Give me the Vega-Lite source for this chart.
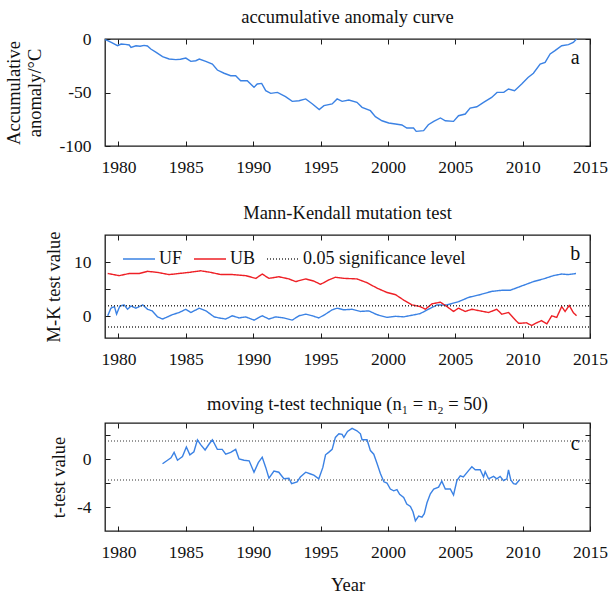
{
  "$schema": "https://vega.github.io/schema/vega-lite/v6.json",
  "background": "white",
  "padding": {"left": 4, "top": 6, "right": 0, "bottom": 2},
  "spacing": 25,
  "resolve": {"legend": {"color": "independent", "strokeDash": "independent"}},
  "datasets": {
    "anom": [
      {"year": 1979.0, "value": -0.5}, {"year": 1979.2, "value": -1.6}, {"year": 1979.5, "value": -3.5}, {"year": 1979.93, "value": -6.3},
      {"year": 1980.2, "value": -4.7}, {"year": 1980.5, "value": -5.0}, {"year": 1980.8, "value": -5.6}, {"year": 1980.93, "value": -7.8},
      {"year": 1981.3, "value": -6.3}, {"year": 1981.6, "value": -6.8}, {"year": 1981.9, "value": -6.0}, {"year": 1982.15, "value": -6.5},
      {"year": 1982.4, "value": -9.4}, {"year": 1982.8, "value": -12.5}, {"year": 1983.27, "value": -16.5}, {"year": 1983.76, "value": -18.7},
      {"year": 1984.26, "value": -19.3}, {"year": 1984.6, "value": -18.9}, {"year": 1985.0, "value": -17.8}, {"year": 1985.37, "value": -20.9},
      {"year": 1985.74, "value": -20.3}, {"year": 1986.0, "value": -18.7}, {"year": 1986.48, "value": -20.9}, {"year": 1986.97, "value": -23.4},
      {"year": 1987.34, "value": -29.0}, {"year": 1987.84, "value": -32.0}, {"year": 1988.33, "value": -34.3}, {"year": 1988.7, "value": -34.3},
      {"year": 1989.07, "value": -39.0}, {"year": 1989.56, "value": -39.0}, {"year": 1990.06, "value": -45.2}, {"year": 1990.3, "value": -42.0},
      {"year": 1990.63, "value": -41.5}, {"year": 1990.93, "value": -48.3}, {"year": 1991.3, "value": -50.8}, {"year": 1991.8, "value": -49.9},
      {"year": 1992.4, "value": -53.9}, {"year": 1992.9, "value": -58.3}, {"year": 1993.4, "value": -57.7}, {"year": 1993.9, "value": -56.0},
      {"year": 1994.4, "value": -60.7}, {"year": 1994.9, "value": -66.0}, {"year": 1995.25, "value": -62.3}, {"year": 1995.86, "value": -60.7},
      {"year": 1996.23, "value": -56.0}, {"year": 1996.6, "value": -58.3}, {"year": 1997.1, "value": -57.0}, {"year": 1997.7, "value": -59.2},
      {"year": 1998.08, "value": -63.9}, {"year": 1998.7, "value": -67.0}, {"year": 1999.07, "value": -72.6}, {"year": 1999.56, "value": -76.4},
      {"year": 2000.06, "value": -78.5}, {"year": 2000.56, "value": -79.5}, {"year": 2001.04, "value": -80.4}, {"year": 2001.4, "value": -83.2},
      {"year": 2001.9, "value": -83.2}, {"year": 2002.1, "value": -86.3}, {"year": 2002.65, "value": -85.7}, {"year": 2003.0, "value": -80.1},
      {"year": 2003.4, "value": -77.0}, {"year": 2003.9, "value": -73.8}, {"year": 2004.26, "value": -76.4}, {"year": 2004.87, "value": -77.0},
      {"year": 2005.24, "value": -71.7}, {"year": 2005.74, "value": -70.1}, {"year": 2006.1, "value": -64.5}, {"year": 2006.6, "value": -63.3},
      {"year": 2007.1, "value": -59.2}, {"year": 2007.7, "value": -54.6}, {"year": 2008.1, "value": -49.9}, {"year": 2008.6, "value": -49.9},
      {"year": 2008.95, "value": -46.7}, {"year": 2009.4, "value": -48.3}, {"year": 2009.93, "value": -42.0}, {"year": 2010.4, "value": -35.9},
      {"year": 2010.8, "value": -32.0}, {"year": 2011.3, "value": -23.4}, {"year": 2011.67, "value": -21.9}, {"year": 2012.04, "value": -14.0},
      {"year": 2012.4, "value": -10.9}, {"year": 2012.9, "value": -6.3}, {"year": 2013.4, "value": -5.3}, {"year": 2013.76, "value": -3.2},
      {"year": 2014.0, "value": 0.0}
    ],
    "mk": [
      {"series": "UF", "grp": "UF", "year": 1979.2, "value": 0.1}, {"series": "UF", "grp": "UF", "year": 1979.44, "value": 1.5},
      {"series": "UF", "grp": "UF", "year": 1979.7, "value": 1.8}, {"series": "UF", "grp": "UF", "year": 1979.86, "value": 0.4},
      {"series": "UF", "grp": "UF", "year": 1980.1, "value": 1.9}, {"series": "UF", "grp": "UF", "year": 1980.43, "value": 2.1},
      {"series": "UF", "grp": "UF", "year": 1980.67, "value": 1.3}, {"series": "UF", "grp": "UF", "year": 1980.93, "value": 1.9},
      {"series": "UF", "grp": "UF", "year": 1981.3, "value": 1.5}, {"series": "UF", "grp": "UF", "year": 1981.8, "value": 2.1},
      {"series": "UF", "grp": "UF", "year": 1982.16, "value": 1.3}, {"series": "UF", "grp": "UF", "year": 1982.5, "value": 1.0},
      {"series": "UF", "grp": "UF", "year": 1982.9, "value": -0.1}, {"series": "UF", "grp": "UF", "year": 1983.27, "value": -0.5},
      {"series": "UF", "grp": "UF", "year": 1983.64, "value": -0.1}, {"series": "UF", "grp": "UF", "year": 1984.0, "value": 0.3},
      {"series": "UF", "grp": "UF", "year": 1984.5, "value": 0.7}, {"series": "UF", "grp": "UF", "year": 1985.0, "value": 1.3},
      {"series": "UF", "grp": "UF", "year": 1985.37, "value": 0.7}, {"series": "UF", "grp": "UF", "year": 1986.0, "value": 1.5},
      {"series": "UF", "grp": "UF", "year": 1986.5, "value": 1.0}, {"series": "UF", "grp": "UF", "year": 1987.1, "value": -0.1},
      {"series": "UF", "grp": "UF", "year": 1987.47, "value": -0.3}, {"series": "UF", "grp": "UF", "year": 1987.96, "value": -0.5},
      {"series": "UF", "grp": "UF", "year": 1988.45, "value": 0.1}, {"series": "UF", "grp": "UF", "year": 1988.95, "value": -0.3},
      {"series": "UF", "grp": "UF", "year": 1989.44, "value": -0.1}, {"series": "UF", "grp": "UF", "year": 1990.06, "value": -0.7},
      {"series": "UF", "grp": "UF", "year": 1990.67, "value": 0.1}, {"series": "UF", "grp": "UF", "year": 1991.17, "value": -0.5},
      {"series": "UF", "grp": "UF", "year": 1991.67, "value": -0.1}, {"series": "UF", "grp": "UF", "year": 1992.28, "value": -0.3},
      {"series": "UF", "grp": "UF", "year": 1992.9, "value": -0.7}, {"series": "UF", "grp": "UF", "year": 1993.4, "value": 0.1},
      {"series": "UF", "grp": "UF", "year": 1993.9, "value": 0.4}, {"series": "UF", "grp": "UF", "year": 1994.38, "value": 0.1},
      {"series": "UF", "grp": "UF", "year": 1994.87, "value": -0.3}, {"series": "UF", "grp": "UF", "year": 1995.37, "value": 0.4},
      {"series": "UF", "grp": "UF", "year": 1995.86, "value": 1.2}, {"series": "UF", "grp": "UF", "year": 1996.23, "value": 1.5},
      {"series": "UF", "grp": "UF", "year": 1996.73, "value": 1.2}, {"series": "UF", "grp": "UF", "year": 1997.34, "value": 1.3},
      {"series": "UF", "grp": "UF", "year": 1997.96, "value": 0.9}, {"series": "UF", "grp": "UF", "year": 1998.58, "value": 1.0},
      {"series": "UF", "grp": "UF", "year": 1999.19, "value": 0.3}, {"series": "UF", "grp": "UF", "year": 1999.93, "value": -0.2},
      {"series": "UF", "grp": "UF", "year": 2000.56, "value": 0.0}, {"series": "UF", "grp": "UF", "year": 2001.17, "value": -0.1},
      {"series": "UF", "grp": "UF", "year": 2001.79, "value": 0.2}, {"series": "UF", "grp": "UF", "year": 2002.4, "value": 0.5},
      {"series": "UF", "grp": "UF", "year": 2003.0, "value": 1.3}, {"series": "UF", "grp": "UF", "year": 2003.64, "value": 2.1},
      {"series": "UF", "grp": "UF", "year": 2004.38, "value": 2.1}, {"series": "UF", "grp": "UF", "year": 2005.24, "value": 2.7},
      {"series": "UF", "grp": "UF", "year": 2006.0, "value": 3.5}, {"series": "UF", "grp": "UF", "year": 2006.85, "value": 4.0},
      {"series": "UF", "grp": "UF", "year": 2007.7, "value": 4.6}, {"series": "UF", "grp": "UF", "year": 2008.45, "value": 4.8},
      {"series": "UF", "grp": "UF", "year": 2009.07, "value": 4.8}, {"series": "UF", "grp": "UF", "year": 2009.93, "value": 5.6},
      {"series": "UF", "grp": "UF", "year": 2010.8, "value": 6.4}, {"series": "UF", "grp": "UF", "year": 2011.54, "value": 6.9},
      {"series": "UF", "grp": "UF", "year": 2012.28, "value": 7.5}, {"series": "UF", "grp": "UF", "year": 2012.9, "value": 7.8},
      {"series": "UF", "grp": "UF", "year": 2013.4, "value": 7.7}, {"series": "UF", "grp": "UF", "year": 2013.96, "value": 7.9},
      {"series": "UB", "grp": "UB", "year": 1979.2, "value": 7.9}, {"series": "UB", "grp": "UB", "year": 1980.06, "value": 7.5},
      {"series": "UB", "grp": "UB", "year": 1980.8, "value": 7.9}, {"series": "UB", "grp": "UB", "year": 1981.54, "value": 7.9},
      {"series": "UB", "grp": "UB", "year": 1982.16, "value": 8.3}, {"series": "UB", "grp": "UB", "year": 1982.9, "value": 8.1},
      {"series": "UB", "grp": "UB", "year": 1983.76, "value": 7.7}, {"series": "UB", "grp": "UB", "year": 1984.5, "value": 7.9},
      {"series": "UB", "grp": "UB", "year": 1985.24, "value": 8.1}, {"series": "UB", "grp": "UB", "year": 1986.1, "value": 8.4},
      {"series": "UB", "grp": "UB", "year": 1986.85, "value": 8.1}, {"series": "UB", "grp": "UB", "year": 1987.6, "value": 7.7},
      {"series": "UB", "grp": "UB", "year": 1988.45, "value": 7.7}, {"series": "UB", "grp": "UB", "year": 1989.44, "value": 7.5},
      {"series": "UB", "grp": "UB", "year": 1990.2, "value": 7.0}, {"series": "UB", "grp": "UB", "year": 1990.67, "value": 7.8},
      {"series": "UB", "grp": "UB", "year": 1991.17, "value": 7.0}, {"series": "UB", "grp": "UB", "year": 1991.9, "value": 7.3},
      {"series": "UB", "grp": "UB", "year": 1992.65, "value": 6.9}, {"series": "UB", "grp": "UB", "year": 1993.15, "value": 6.4},
      {"series": "UB", "grp": "UB", "year": 1993.9, "value": 6.9}, {"series": "UB", "grp": "UB", "year": 1994.5, "value": 6.5},
      {"series": "UB", "grp": "UB", "year": 1995.0, "value": 5.9}, {"series": "UB", "grp": "UB", "year": 1995.6, "value": 6.7},
      {"series": "UB", "grp": "UB", "year": 1996.1, "value": 7.2}, {"series": "UB", "grp": "UB", "year": 1996.73, "value": 7.0},
      {"series": "UB", "grp": "UB", "year": 1997.7, "value": 6.9}, {"series": "UB", "grp": "UB", "year": 1998.45, "value": 6.2},
      {"series": "UB", "grp": "UB", "year": 1999.19, "value": 5.2}, {"series": "UB", "grp": "UB", "year": 1999.93, "value": 4.4},
      {"series": "UB", "grp": "UB", "year": 2000.56, "value": 4.0}, {"series": "UB", "grp": "UB", "year": 2001.17, "value": 3.0},
      {"series": "UB", "grp": "UB", "year": 2001.79, "value": 2.1}, {"series": "UB", "grp": "UB", "year": 2002.4, "value": 1.8},
      {"series": "UB", "grp": "UB", "year": 2002.78, "value": 1.3}, {"series": "UB", "grp": "UB", "year": 2003.27, "value": 2.3},
      {"series": "UB", "grp": "UB", "year": 2003.9, "value": 2.6}, {"series": "UB", "grp": "UB", "year": 2004.38, "value": 1.8},
      {"series": "UB", "grp": "UB", "year": 2004.87, "value": 0.9}, {"series": "UB", "grp": "UB", "year": 2005.24, "value": 1.5},
      {"series": "UB", "grp": "UB", "year": 2005.74, "value": 0.9}, {"series": "UB", "grp": "UB", "year": 2006.23, "value": 1.3},
      {"series": "UB", "grp": "UB", "year": 2006.85, "value": 1.0}, {"series": "UB", "grp": "UB", "year": 2007.47, "value": 0.7},
      {"series": "UB", "grp": "UB", "year": 2008.08, "value": 1.3}, {"series": "UB", "grp": "UB", "year": 2008.45, "value": 0.4},
      {"series": "UB", "grp": "UB", "year": 2008.95, "value": 0.7}, {"series": "UB", "grp": "UB", "year": 2009.32, "value": -0.3},
      {"series": "UB", "grp": "UB", "year": 2009.7, "value": -1.3}, {"series": "UB", "grp": "UB", "year": 2010.3, "value": -1.2},
      {"series": "UB", "grp": "UB", "year": 2010.67, "value": -1.7}, {"series": "UB", "grp": "UB", "year": 2011.04, "value": -1.2},
      {"series": "UB", "grp": "UB", "year": 2011.4, "value": -0.8}, {"series": "UB", "grp": "UB", "year": 2011.8, "value": -1.4},
      {"series": "UB", "grp": "UB", "year": 2012.16, "value": 0.1}, {"series": "UB", "grp": "UB", "year": 2012.53, "value": -0.2},
      {"series": "UB", "grp": "UB", "year": 2012.9, "value": 1.8}, {"series": "UB", "grp": "UB", "year": 2013.15, "value": 0.9},
      {"series": "UB", "grp": "UB", "year": 2013.46, "value": 2.0}, {"series": "UB", "grp": "UB", "year": 2013.76, "value": 0.7},
      {"series": "UB", "grp": "UB", "year": 2014.0, "value": 0.1},
      {"series": "0.05 significance level", "grp": "up", "year": 1979, "value": 1.96},
      {"series": "0.05 significance level", "grp": "up", "year": 2015, "value": 1.96},
      {"series": "0.05 significance level", "grp": "down", "year": 1979, "value": -1.96},
      {"series": "0.05 significance level", "grp": "down", "year": 2015, "value": -1.96}
    ],
    "tt": [
      {"year": 1983.27, "value": -0.4}, {"year": 1983.64, "value": -0.1}, {"year": 1983.9, "value": 0.1}, {"year": 1984.13, "value": 0.55},
      {"year": 1984.38, "value": -0.1}, {"year": 1984.75, "value": 0.2}, {"year": 1985.04, "value": 1.0}, {"year": 1985.3, "value": 0.35},
      {"year": 1985.6, "value": 0.6}, {"year": 1985.86, "value": 1.6}, {"year": 1986.1, "value": 1.2}, {"year": 1986.43, "value": 0.75},
      {"year": 1986.73, "value": 1.25}, {"year": 1986.97, "value": 1.6}, {"year": 1987.34, "value": 0.8}, {"year": 1987.7, "value": 0.8},
      {"year": 1987.96, "value": 0.4}, {"year": 1988.33, "value": 0.55}, {"year": 1988.7, "value": 0.8}, {"year": 1988.95, "value": 0.0},
      {"year": 1989.32, "value": -0.1}, {"year": 1989.7, "value": -0.15}, {"year": 1990.06, "value": -1.1}, {"year": 1990.38, "value": -0.3},
      {"year": 1990.67, "value": 0.15}, {"year": 1990.93, "value": -0.7}, {"year": 1991.17, "value": -1.6}, {"year": 1991.54, "value": -1.0},
      {"year": 1991.9, "value": -1.1}, {"year": 1992.28, "value": -1.65}, {"year": 1992.65, "value": -1.6}, {"year": 1992.85, "value": -2.05},
      {"year": 1993.26, "value": -1.9}, {"year": 1993.5, "value": -1.5}, {"year": 1993.9, "value": -1.1}, {"year": 1994.26, "value": -1.25},
      {"year": 1994.5, "value": -1.35}, {"year": 1994.87, "value": -1.65}, {"year": 1995.17, "value": -0.7}, {"year": 1995.37, "value": 0.35},
      {"year": 1995.6, "value": 0.55}, {"year": 1995.86, "value": 0.8}, {"year": 1996.1, "value": 1.8}, {"year": 1996.36, "value": 2.1},
      {"year": 1996.6, "value": 2.05}, {"year": 1996.73, "value": 1.8}, {"year": 1997.0, "value": 2.3}, {"year": 1997.34, "value": 2.55},
      {"year": 1997.7, "value": 2.35}, {"year": 1997.96, "value": 2.1}, {"year": 1998.08, "value": 1.6}, {"year": 1998.45, "value": 1.6},
      {"year": 1998.7, "value": 0.7}, {"year": 1998.95, "value": 0.4}, {"year": 1999.2, "value": -0.4}, {"year": 1999.44, "value": -1.2},
      {"year": 1999.7, "value": -1.9}, {"year": 1999.93, "value": -2.0}, {"year": 2000.18, "value": -2.5}, {"year": 2000.43, "value": -2.65},
      {"year": 2000.67, "value": -2.55}, {"year": 2000.87, "value": -2.95}, {"year": 2001.17, "value": -3.2}, {"year": 2001.4, "value": -3.75},
      {"year": 2001.67, "value": -3.95}, {"year": 2001.86, "value": -4.4}, {"year": 2002.04, "value": -5.15}, {"year": 2002.28, "value": -4.75},
      {"year": 2002.53, "value": -4.85}, {"year": 2002.7, "value": -4.55}, {"year": 2002.9, "value": -3.65}, {"year": 2003.15, "value": -2.9},
      {"year": 2003.4, "value": -2.5}, {"year": 2003.76, "value": -2.35}, {"year": 2004.0, "value": -1.85}, {"year": 2004.26, "value": -2.5},
      {"year": 2004.63, "value": -2.5}, {"year": 2004.87, "value": -3.0}, {"year": 2005.12, "value": -1.8}, {"year": 2005.37, "value": -1.4},
      {"year": 2005.6, "value": -1.5}, {"year": 2006.0, "value": -0.95}, {"year": 2006.23, "value": -0.65}, {"year": 2006.48, "value": -0.9},
      {"year": 2006.85, "value": -0.9}, {"year": 2007.1, "value": -1.5}, {"year": 2007.22, "value": -1.05}, {"year": 2007.47, "value": -1.65},
      {"year": 2007.84, "value": -1.45}, {"year": 2008.08, "value": -1.65}, {"year": 2008.33, "value": -1.45}, {"year": 2008.58, "value": -1.8},
      {"year": 2008.83, "value": -1.65}, {"year": 2008.95, "value": -0.9}, {"year": 2009.12, "value": -1.75}, {"year": 2009.32, "value": -2.05},
      {"year": 2009.5, "value": -2.1}, {"year": 2009.76, "value": -1.75}
    ],
    "tsig": [
      {"grp": "up", "year": 1979, "value": 1.5}, {"grp": "up", "year": 2015, "value": 1.5},
      {"grp": "down", "year": 1979, "value": -1.75}, {"grp": "down", "year": 2015, "value": -1.75}
    ],
    "letters": [
      {"panel": "a", "year": 2013.9, "value": -23.8, "label": "a"},
      {"panel": "b", "year": 2013.9, "value": 10.3, "label": "b"},
      {"panel": "c", "year": 2013.9, "value": 0.73, "label": "c"}
    ]
  },
  "vconcat": [
    {
      "width": 485,
      "height": 107,
      "title": {"text": "accumulative anomaly curve", "offset": 4},
      "layer": [
        {
          "data": {"name": "anom"},
          "mark": {"type": "line", "color": "#3b82e4", "strokeWidth": 1.4},
          "encoding": {
            "x": {"field": "year", "type": "quantitative", "scale": {"domain": [1979, 2015], "nice": false, "zero": false},
                  "axis": {"orient": "bottom", "title": null, "values": [1980, 1985, 1990, 1995, 2000, 2005, 2010, 2015], "format": "d"}},
            "y": {"field": "value", "type": "quantitative", "scale": {"domain": [-100, 0], "nice": false},
                  "axis": {"orient": "left", "title": ["Accumulative", "anomaly/°C"], "values": [-100, -50, 0], "titlePadding": 14, "titleLineHeight": 21,
                           "labelExpr": "datum.value < 0 ? '-' + abs(datum.value) : '' + datum.value"}}
          }
        },
        {
          "data": {"name": "anom"},
          "mark": {"type": "line", "opacity": 0},
          "encoding": {
            "x": {"field": "year", "type": "quantitative", "axis": {"orient": "top", "title": null, "labels": false, "values": [1980, 1985, 1990, 1995, 2000, 2005, 2010, 2015]}},
            "y": {"field": "value", "type": "quantitative", "axis": {"orient": "right", "title": null, "labels": false, "values": [-100, -50, 0]}}
          }
        },
        {
          "data": {"name": "letters"},
          "transform": [{"filter": "datum.panel === 'a'"}],
          "mark": {"type": "text", "fontSize": 20, "font": "Liberation Serif", "align": "center", "baseline": "alphabetic", "color": "#111"},
          "encoding": {
            "x": {"field": "year", "type": "quantitative", "axis": null},
            "y": {"field": "value", "type": "quantitative", "axis": null},
            "text": {"field": "label"}
          }
        }
      ],
      "resolve": {"axis": {"x": "independent", "y": "independent"}}
    },
    {
      "width": 485,
      "height": 103,
      "title": {"text": "Mann-Kendall mutation test", "offset": 9},
      "layer": [
        {
          "data": {"name": "mk"},
          "mark": {"type": "line", "strokeWidth": 1.4},
          "encoding": {
            "x": {"field": "year", "type": "quantitative", "scale": {"domain": [1979, 2015], "nice": false, "zero": false},
                  "axis": {"orient": "bottom", "title": null, "values": [1980, 1985, 1990, 1995, 2000, 2005, 2010, 2015], "format": "d"}},
            "y": {"field": "value", "type": "quantitative", "scale": {"domain": [-4, 15], "nice": false},
                  "axis": {"orient": "left", "title": "M-K test value", "values": [0, 5, 10], "titlePadding": 10,
                           "labelExpr": "datum.value == 5 ? '' : '' + datum.value"}},
            "color": {"field": "series", "type": "nominal",
                      "scale": {"domain": ["UF", "UB", "0.05 significance level"], "range": ["#3b82e4", "#ee2026", "#333333"]},
                      "legend": {"title": null, "orient": "none", "legendX": 17, "legendY": 7, "direction": "horizontal"}},
            "strokeDash": {"field": "series", "type": "nominal",
                      "scale": {"domain": ["UF", "UB", "0.05 significance level"], "range": [[1, 0], [1, 0], [1, 2]]},
                      "legend": {"title": null, "orient": "none", "legendX": 17, "legendY": 7, "direction": "horizontal"}},
            "strokeWidth": {"condition": {"test": "datum.series === '0.05 significance level'", "value": 1}, "value": 1.4},
            "detail": {"field": "grp"}
          }
        },
        {
          "data": {"name": "mk"},
          "mark": {"type": "line", "opacity": 0},
          "encoding": {
            "x": {"field": "year", "type": "quantitative", "axis": {"orient": "top", "title": null, "labels": false, "values": [1980, 1985, 1990, 1995, 2000, 2005, 2010, 2015]}},
            "y": {"field": "value", "type": "quantitative", "axis": {"orient": "right", "title": null, "labels": false, "values": [0, 5, 10]}},
            "detail": {"field": "grp"}
          }
        },
        {
          "data": {"name": "letters"},
          "transform": [{"filter": "datum.panel === 'b'"}],
          "mark": {"type": "text", "fontSize": 20, "font": "Liberation Serif", "align": "center", "baseline": "alphabetic", "color": "#111"},
          "encoding": {
            "x": {"field": "year", "type": "quantitative", "axis": null},
            "y": {"field": "value", "type": "quantitative", "axis": null},
            "text": {"field": "label"}
          }
        }
      ],
      "resolve": {"axis": {"x": "independent", "y": "independent"}}
    },
    {
      "width": 485,
      "height": 108,
      "title": {"text": "moving t-test technique (n₁ = n₂ = 50)", "offset": 9},
      "layer": [
        {
          "data": {"name": "tsig"},
          "mark": {"type": "line", "color": "#333333", "strokeWidth": 1, "strokeDash": [1, 2]},
          "encoding": {
            "x": {"field": "year", "type": "quantitative", "scale": {"domain": [1979, 2015], "nice": false, "zero": false},
                  "axis": {"orient": "bottom", "title": "Year", "values": [1980, 1985, 1990, 1995, 2000, 2005, 2010, 2015], "format": "d", "titlePadding": 14}},
            "y": {"field": "value", "type": "quantitative", "scale": {"domain": [-6, 3], "nice": false},
                  "axis": {"orient": "left", "title": "t-test value", "values": [-4, -2, 0, 2], "titlePadding": 8,
                           "labelExpr": "datum.value == 0 ? '0' : (datum.value == -4 ? '-4' : '')"}},
            "detail": {"field": "grp"}
          }
        },
        {
          "data": {"name": "tt"},
          "mark": {"type": "line", "color": "#3b82e4", "strokeWidth": 1.4},
          "encoding": {
            "x": {"field": "year", "type": "quantitative", "axis": {"orient": "top", "title": null, "labels": false, "values": [1980, 1985, 1990, 1995, 2000, 2005, 2010, 2015]}},
            "y": {"field": "value", "type": "quantitative", "axis": {"orient": "right", "title": null, "labels": false, "values": [-4, -2, 0, 2]}}
          }
        },
        {
          "data": {"name": "letters"},
          "transform": [{"filter": "datum.panel === 'c'"}],
          "mark": {"type": "text", "fontSize": 20, "font": "Liberation Serif", "align": "center", "baseline": "alphabetic", "color": "#111"},
          "encoding": {
            "x": {"field": "year", "type": "quantitative", "axis": null},
            "y": {"field": "value", "type": "quantitative", "axis": null},
            "text": {"field": "label"}
          }
        }
      ],
      "resolve": {"axis": {"x": "independent", "y": "independent"}}
    }
  ],
  "config": {
    "font": "Liberation Serif",
    "view": {"stroke": "#1a1a1a", "strokeWidth": 1.3},
    "title": {"font": "Liberation Serif", "fontSize": 18.5, "fontWeight": "normal", "color": "#111", "anchor": "middle"},
    "axis": {
      "labelFont": "Liberation Serif", "labelFontSize": 17.5, "labelColor": "#111",
      "titleFont": "Liberation Serif", "titleFontSize": 18.5, "titleFontWeight": "normal", "titleColor": "#111",
      "grid": false, "domain": false, "tickColor": "#1a1a1a", "tickSize": -5, "tickWidth": 1, "labelFlush": false
    },
    "axisX": {"labelPadding": 17.5},
    "axisY": {"labelPadding": 19},
    "legend": {
      "labelFont": "Liberation Serif", "labelFontSize": 18, "labelColor": "#111", "labelLimit": 400,
      "symbolType": "stroke", "symbolSize": 1024, "symbolStrokeWidth": 1.4, "labelOffset": 3, "columnPadding": 8, "padding": 0
    }
  }
}
